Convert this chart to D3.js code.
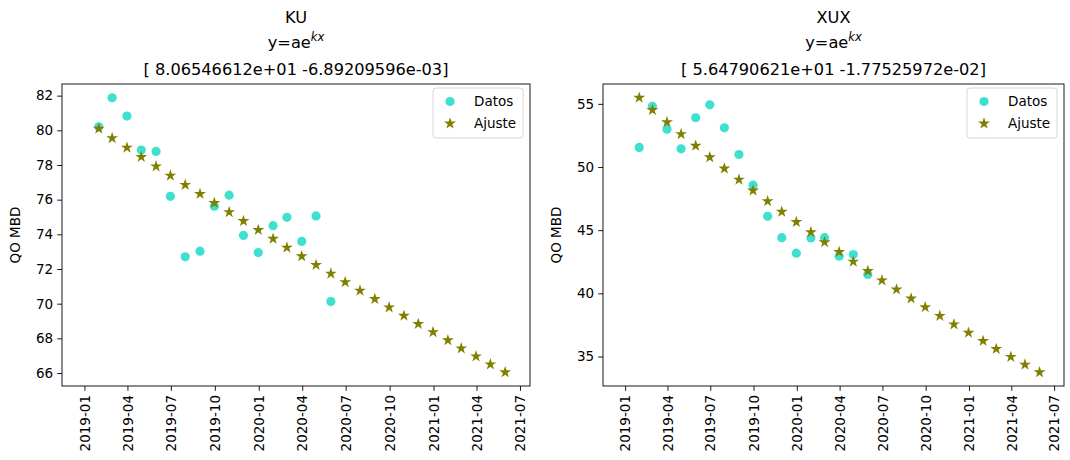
<!DOCTYPE html>
<html>
<head>
<meta charset="utf-8">
<script src="https://cdn.jsdelivr.net/npm/d3@7"></script>
<style>
  html, body { margin: 0; padding: 0; background: #fff; }
  svg { display: block; font-family: "DejaVu Sans", sans-serif; }
</style>
</head>
<body>
<svg id="chart" width="1070" height="460"></svg>
<script>
// ---------- data ----------
const fitDates = ["2019-01-31","2019-02-28","2019-03-31","2019-04-30","2019-05-31","2019-06-30",
  "2019-07-31","2019-08-31","2019-09-30","2019-10-31","2019-11-30","2019-12-31",
  "2020-01-31","2020-02-29","2020-03-31","2020-04-30","2020-05-31","2020-06-30",
  "2020-07-31","2020-08-31","2020-09-30","2020-10-31","2020-11-30","2020-12-31",
  "2021-01-31","2021-02-28","2021-03-31","2021-04-30","2021-05-31"];
const dataDates = fitDates.slice(0, 17);

const kuTitle = ["KU", "[ 8.06546612e+01 -6.89209596e-03]"];
const kuDatos = [80.20, 81.88, 80.82, 78.86, 78.78, 76.19, 72.70, 73.03, 75.62, 76.26,
  73.94, 72.95, 74.50, 74.98, 73.59, 75.06, 70.12];
const kuAjuste = [80.101, 79.551, 79.004, 78.462, 77.923, 77.387, 76.856, 76.328, 75.804, 75.283,
  74.766, 74.252, 73.742, 73.236, 72.733, 72.233, 71.737, 71.245, 70.755, 70.269,
  69.787, 69.307, 68.831, 68.359, 67.889, 67.423, 66.960, 66.500, 66.043];

const xuxTitle = ["XUX", "[ 5.64790621e+01 -1.77525972e-02]"];
const xuxDatos = [51.55, 54.81, 52.99, 51.44, 53.90, 54.92, 53.10, 50.99, 48.56, 46.10,
  44.41, 43.18, 44.39, 44.41, 42.94, 43.07, 41.50];
const xuxAjuste = [55.485, 54.509, 53.550, 52.608, 51.682, 50.773, 49.879, 49.002, 48.139, 47.292,
  46.460, 45.643, 44.839, 44.050, 43.275, 42.514, 41.766, 41.031, 40.309, 39.600,
  38.903, 38.218, 37.546, 36.885, 36.236, 35.599, 34.972, 34.357, 33.752];

const kuYTicks = [66, 68, 70, 72, 74, 76, 78, 80, 82];
const xuxYTicks = [35, 40, 45, 50, 55];
const xRange = ["2018-11-15", "2021-07-22"];
const legendLabels = ["Datos", "Ajuste"];
const yLabel = "QO MBD";

// ---------- drawing ----------
const parse = d3.timeParse("%Y-%m-%d");
const svg = d3.select("#chart");
const C_DATOS = "#40E0D0", C_AJUSTE = "#808000";
const TICK_FS = 13.5, TITLE_FS = 16.2;

function panel(opt) {
  const { left, right, top, bottom } = opt;
  const g = svg.append("g");
  const x = d3.scaleTime().domain(xRange.map(parse)).range([left, right]);
  const all = opt.datos.concat(opt.ajuste);
  const [mn, mx] = d3.extent(all);
  const pad = (mx - mn) * 0.05;
  const y = d3.scaleLinear().domain([mn - pad, mx + pad]).range([bottom, top]);

  // axes
  const xAxis = d3.axisBottom(x).ticks(d3.timeMonth.every(3)).tickFormat(d3.timeFormat("%Y-%m"))
    .tickSizeInner(4.8).tickSizeOuter(0).tickPadding(4);
  const gx = g.append("g").attr("transform", `translate(0,${bottom})`).call(xAxis);
  gx.select(".domain").remove();
  gx.selectAll("text").attr("transform", "rotate(-90)")
    .attr("text-anchor", "end").attr("dy", "0.35em")
    .attr("x", -9).attr("y", 0)
    .style("font-size", TICK_FS + "px").style("font-family", "DejaVu Sans").attr("fill", "#000");
  gx.selectAll("line").attr("stroke", "#000").attr("stroke-width", 0.9);

  const yAxis = d3.axisLeft(y).tickValues(opt.yTicks).tickSizeInner(4.8).tickSizeOuter(0).tickPadding(4);
  const gy = g.append("g").attr("transform", `translate(${left},0)`).call(yAxis);
  gy.select(".domain").remove();
  gy.selectAll("text").style("font-size", TICK_FS + "px").style("font-family", "DejaVu Sans").attr("fill", "#000");
  gy.selectAll("line").attr("stroke", "#000").attr("stroke-width", 0.9);

  // frame
  g.append("rect").attr("x", left).attr("y", top).attr("width", right - left).attr("height", bottom - top)
    .attr("fill", "none").attr("stroke", "#000").attr("stroke-width", 0.9);

  // marks
  g.append("g").selectAll("circle").data(opt.datos).join("circle")
    .attr("cx", (d, i) => x(parse(dataDates[i]))).attr("cy", d => y(d))
    .attr("r", 4.6).attr("fill", C_DATOS);
  const star = d3.symbol().type(d3.symbolStar).size(44);
  g.append("g").selectAll("path").data(opt.ajuste).join("path")
    .attr("d", star)
    .attr("transform", (d, i) => `translate(${x(parse(fitDates[i]))},${y(d)})`)
    .attr("fill", C_AJUSTE);

  // titles
  const cx = (left + right) / 2;
  g.append("text").attr("x", cx).attr("y", 23).attr("text-anchor", "middle")
    .style("font-size", TITLE_FS + "px").text(opt.title[0]);
  const t2 = g.append("text").attr("x", cx).attr("y", 48).attr("text-anchor", "middle")
    .style("font-size", TITLE_FS + "px");
  t2.append("tspan").text("y=ae");
  t2.append("tspan").attr("dy", -7).style("font-size", "11.5px").style("font-style", "italic").text("kx");
  g.append("text").attr("x", cx).attr("y", 75).attr("text-anchor", "middle")
    .style("font-size", TITLE_FS + "px").text(opt.title[1]);

  // y label
  g.append("text").attr("transform", `translate(${left - 42},${(top + bottom) / 2}) rotate(-90)`)
    .attr("text-anchor", "middle").style("font-size", TICK_FS + "px").text(yLabel);

  // legend
  const lw = 90, lh = 50;
  const lx = right - 7 - lw, ly = top + 4;
  g.append("rect").attr("x", lx).attr("y", ly).attr("width", lw).attr("height", lh)
    .attr("rx", 3).attr("fill", "#fff").attr("fill-opacity", 0.8)
    .attr("stroke", "#d6d6d6").attr("stroke-width", 1);
  legendLabels.forEach((lab, i) => {
    const yy = ly + 13.5 + i * 22;
    if (i === 0) {
      g.append("circle").attr("cx", lx + 17).attr("cy", yy).attr("r", 4.6).attr("fill", C_DATOS);
    } else {
      g.append("path").attr("d", star).attr("transform", `translate(${lx + 17},${yy})`).attr("fill", C_AJUSTE);
    }
    g.append("text").attr("x", lx + 41).attr("y", yy).attr("dy", "0.35em")
      .style("font-size", TICK_FS + "px").text(lab);
  });
}

panel({ left: 62, right: 530, top: 84, bottom: 386, datos: kuDatos, ajuste: kuAjuste, yTicks: kuYTicks, title: kuTitle });
panel({ left: 603, right: 1064, top: 84, bottom: 386, datos: xuxDatos, ajuste: xuxAjuste, yTicks: xuxYTicks, title: xuxTitle });
</script>
</body>
</html>
